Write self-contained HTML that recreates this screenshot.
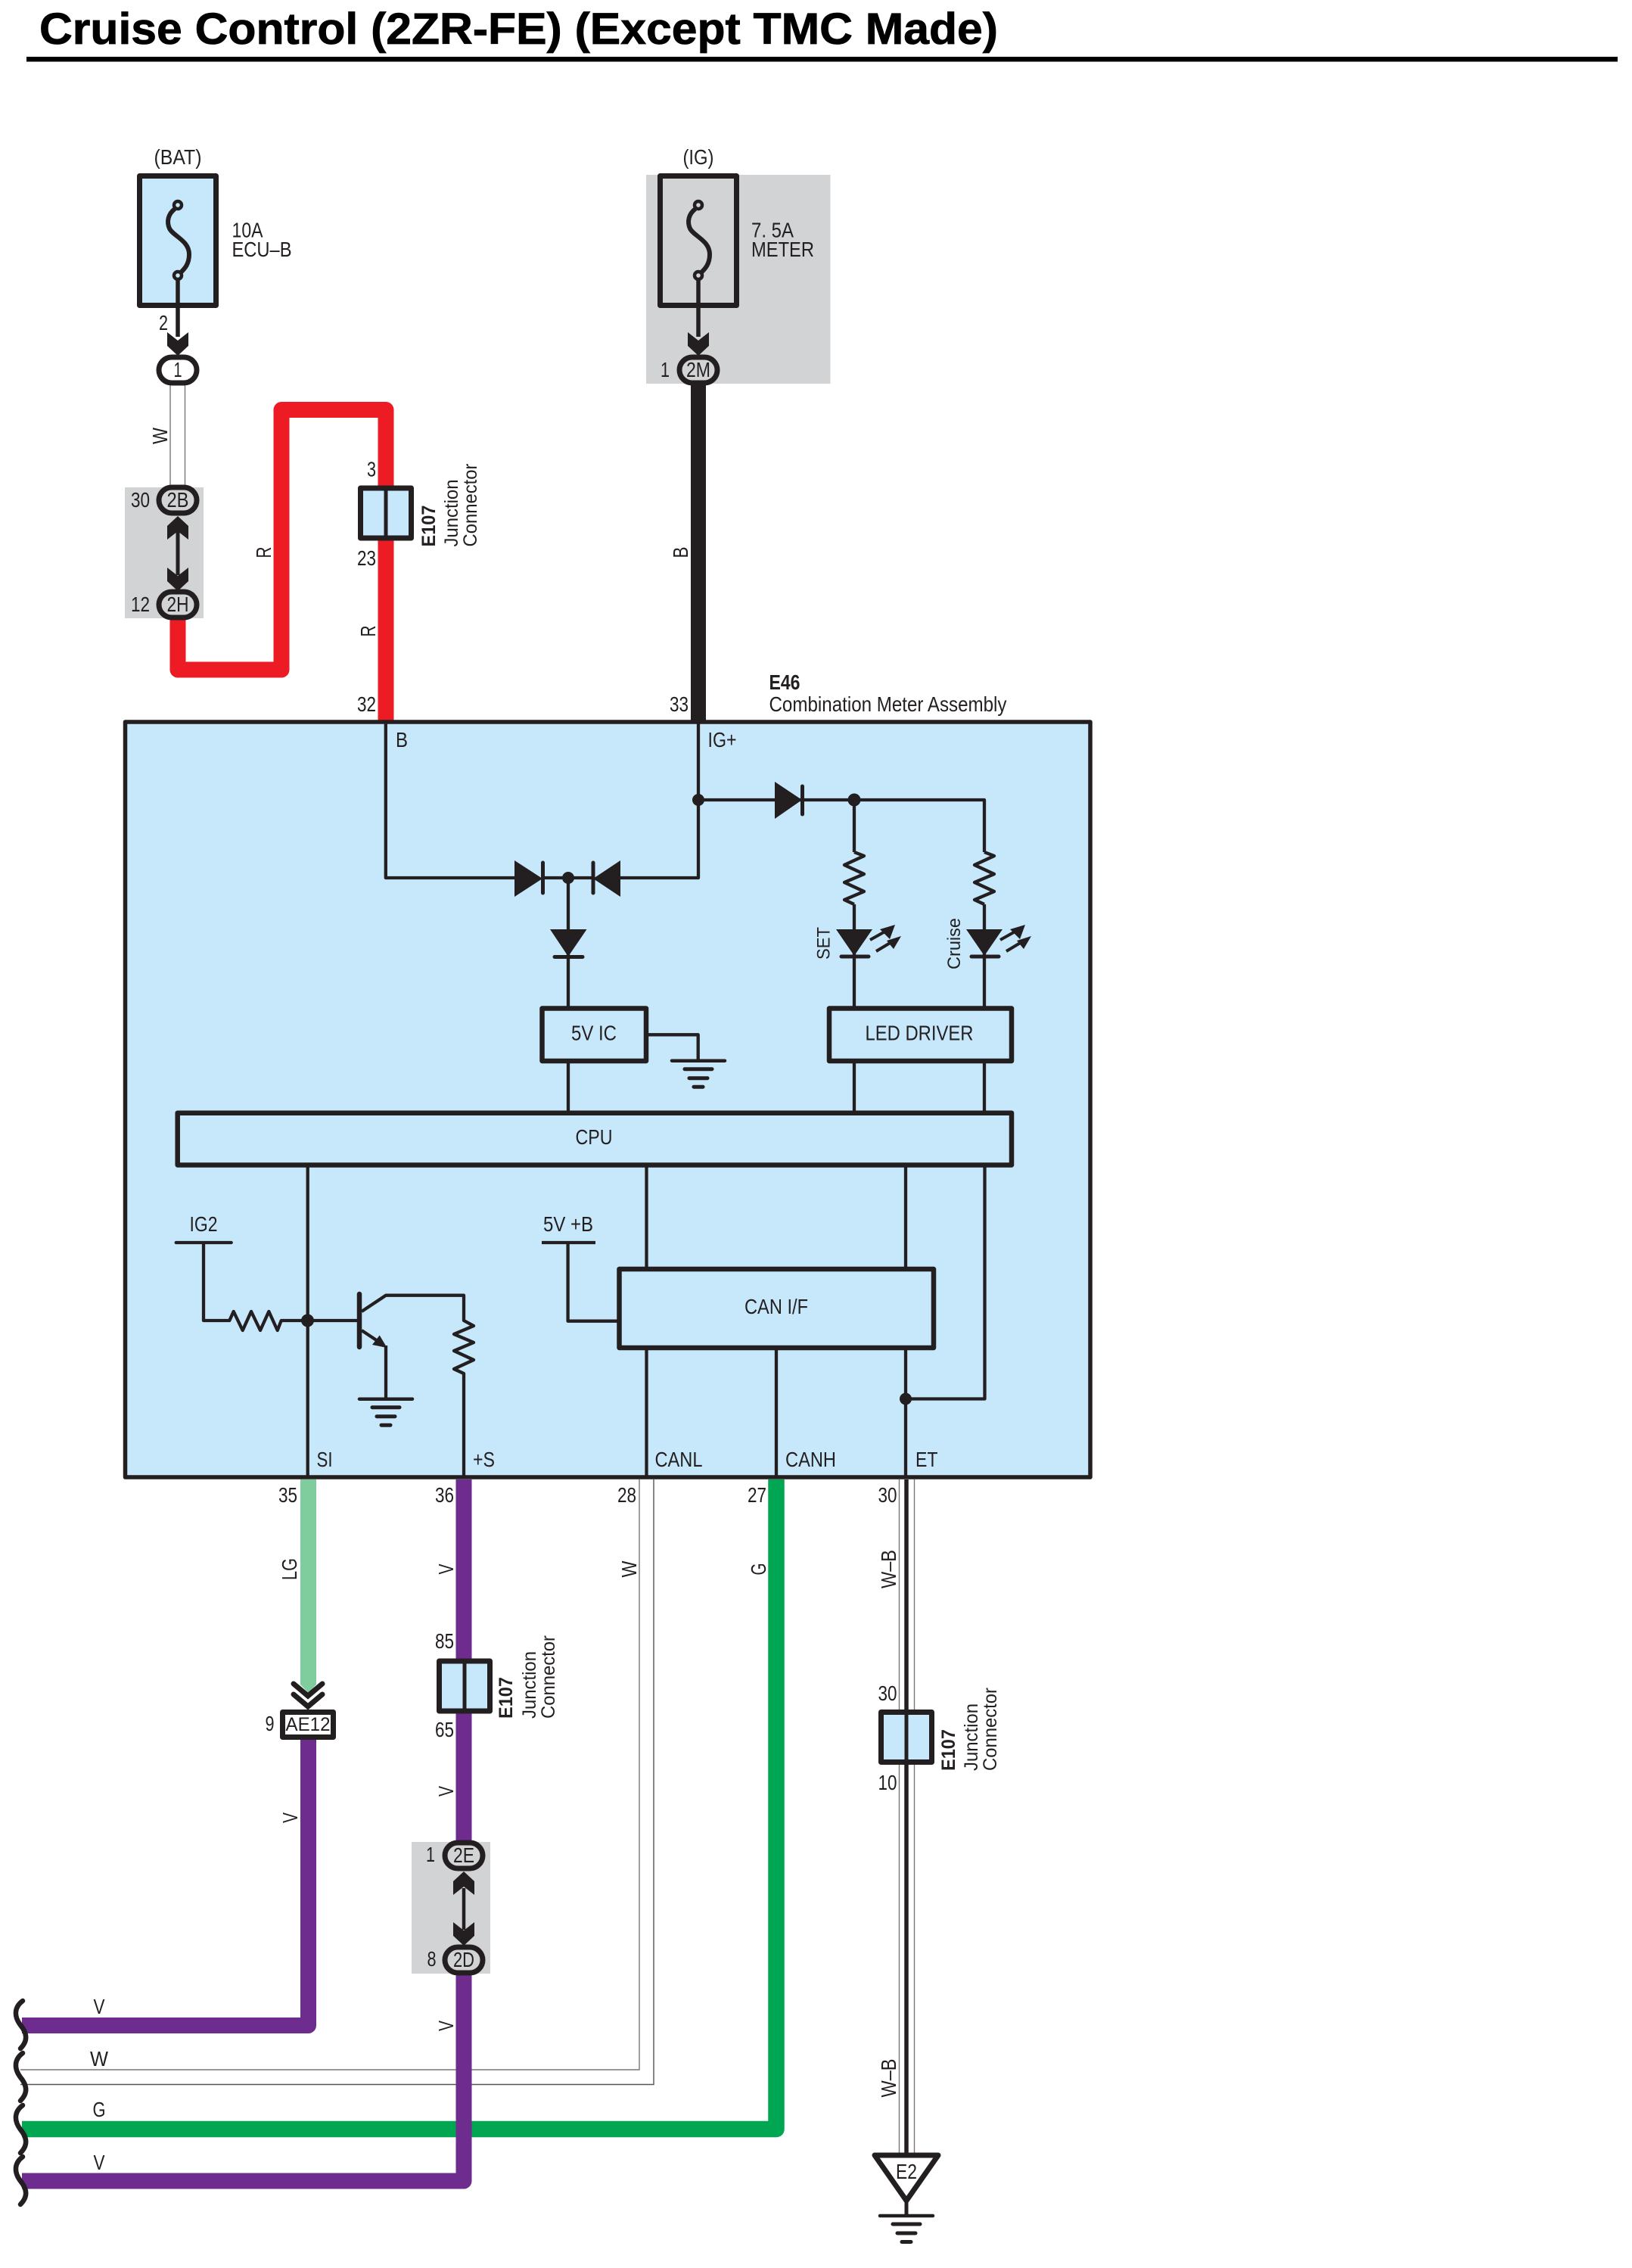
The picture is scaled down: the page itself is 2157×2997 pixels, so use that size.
<!DOCTYPE html>
<html><head><meta charset="utf-8"><title>Cruise Control (2ZR-FE) (Except TMC Made)</title>
<style>
html,body{margin:0;padding:0;background:#fff}
svg{display:block}
text{font-family:"Liberation Sans",sans-serif;font-size:27.5px;fill:#231f20}
.b{font-weight:bold}
.w{fill:none;stroke-linejoin:round}
.l{fill:none;stroke:#231f20;stroke-width:4.3;stroke-linejoin:round}
.k{fill:none;stroke:#231f20;stroke-width:7;stroke-linejoin:round}
.f{fill:#231f20}
.bl{fill:#c7e8fb;stroke:#231f20;stroke-width:6.5;stroke-linejoin:round}
.t{fill:none;stroke:#777;stroke-width:1.4}
</style></head><body>
<svg xmlns="http://www.w3.org/2000/svg" width="2157" height="2997" viewBox="0 0 2157 2997">
<defs>
<polygon id="ad" points="-14,0 0,11 14,0 14,18 0,31 -14,18" fill="#231f20"/>
<g id="gnd" stroke="#231f20" stroke-linecap="round" fill="none">
<path d="M-35,0H35" stroke-width="4.5"/><path d="M-18,11H18" stroke-width="5"/><path d="M-12,23H12" stroke-width="5"/><path d="M-6,34.500H6" stroke-width="5"/>
</g>
<g id="res"><path class="l" d="M0,0L13,5L-13,17L13,29L-13,40L13,52L-13,63L0,69"/></g>
<g id="led">
<polygon class="f" points="-24,0 24,0 0,35"/>
<path d="M-17,36H19" stroke="#231f20" stroke-width="5" stroke-linecap="round"/>
<path d="M21,14L46,0M29,29L54,14" stroke="#231f20" stroke-width="4"/>
<polygon class="f" points="54,-6 34,0 47,13"/>
<polygon class="f" points="62,9 43,15 52,26"/>
</g>
<g id="fuse" fill="none" stroke="#231f20">
<path d="M231,276C222,283 220,293 224,302C229,312 250,318 250,336C250,350 243,356 238,361" stroke-width="6"/>
<circle cx="235" cy="271" r="5" stroke-width="4.5"/><circle cx="235" cy="364" r="5" stroke-width="4.5"/>
</g>
<g id="jc">
<rect x="0" y="0" width="67" height="66" class="k" style="fill:#c7e8fb"/>
<path d="M33.5,0V66" stroke="#231f20" stroke-width="5"/>
</g>
<path id="wv" d="M30,0C19,8 18,20 27,32C37,44 36,54 27,63" fill="none" stroke="#231f20" stroke-width="6.500" stroke-linecap="round"/>
</defs>

<text x="52" y="58" class="b" style="font-size:58px;fill:#000;stroke:#000;stroke-width:.8" textLength="1267" lengthAdjust="spacingAndGlyphs">Cruise Control (2ZR-FE) (Except TMC Made)</text>
<rect x="35" y="75" width="2103" height="6.5" fill="#000"/>

<!-- gray areas -->
<rect x="854" y="231" width="243.500" height="276" fill="#d1d3d4"/>
<rect x="165" y="644" width="104" height="173" fill="#d1d3d4"/>
<rect x="544" y="2434" width="104" height="174" fill="#d1d3d4"/>

<!-- top wires -->
<path d="M225,509V645" class="t"/>
<path d="M244.500,509V645" class="t"/>
<path class="w" stroke="#ed1c24" stroke-width="21" d="M235,815V885H372V541.500H510V953"/>
<path stroke="#231f20" stroke-width="20" d="M923,505V953"/>

<!-- main block -->
<rect x="165.500" y="954" width="1275.500" height="998" class="bl" style="stroke-width:5.500"/>

<!-- fuses -->
<rect x="184.500" y="232.500" width="101" height="171" class="k" style="fill:#c7e8fb"/>
<use href="#fuse"/>
<path d="M235,369V445" stroke="#231f20" stroke-width="5.500"/>
<use href="#ad" transform="translate(235,439)"/>
<rect x="872.500" y="232.500" width="101" height="171" class="k"/>
<use href="#fuse" transform="translate(688,0)"/>
<path d="M923,369V445" stroke="#231f20" stroke-width="5.500"/>
<use href="#ad" transform="translate(923,439)"/>

<!-- top connectors -->
<rect x="210" y="472" width="50" height="34" rx="17" class="k" style="fill:#fff"/>
<rect x="898" y="472" width="50" height="34" rx="17" class="k" style="fill:#d1d3d4"/>
<path d="M235,700V760" stroke="#231f20" stroke-width="5"/>
<use href="#ad" transform="translate(235,713) scale(1,-1)"/>
<use href="#ad" transform="translate(235,750)"/>
<rect x="210" y="644" width="50" height="34" rx="17" class="k" style="fill:#d1d3d4"/>
<rect x="210" y="782" width="50" height="34" rx="17" class="k" style="fill:#d1d3d4"/>
<use href="#jc" transform="translate(476.500,645)"/>

<!-- inside block wiring -->
<path class="l" d="M509.800,954V1160H700M800,1160H923V954M923,1057H1301V1126"/>
<path class="l" d="M717,1160H784M751,1160V1332"/>
<polygon class="f" points="680,1137 680,1185 717,1161"/>
<path d="M717.500,1140V1180" stroke="#231f20" stroke-width="5" stroke-linecap="round"/>
<polygon class="f" points="820,1137 820,1185 784,1161"/>
<path d="M784,1140V1180" stroke="#231f20" stroke-width="5" stroke-linecap="round"/>
<circle cx="751" cy="1160" r="8" class="f"/>
<circle cx="923" cy="1057" r="8" class="f"/>
<polygon class="f" points="727,1228 775.500,1228 751,1264"/>
<path d="M733,1264.500H770" stroke="#231f20" stroke-width="5" stroke-linecap="round"/>
<polygon class="f" points="1024,1033 1024,1082 1060,1057"/>
<path d="M1060.500,1039V1076" stroke="#231f20" stroke-width="5" stroke-linecap="round"/>
<circle cx="1129" cy="1057" r="8.500" class="f"/>
<path class="l" d="M1129,1057V1126M1129,1195V1332M1301,1195V1332"/>
<use href="#res" transform="translate(1129,1126)"/>
<use href="#res" transform="translate(1301,1126)"/>
<use href="#led" transform="translate(1129,1228)"/>
<use href="#led" transform="translate(1301,1228)"/>

<path class="l" d="M751,1402V1470M1129,1402V1470M1301,1402V1470"/>
<path class="l" d="M854,1367.300H922.700V1401"/>
<use href="#gnd" transform="translate(923,1401.700)"/>

<path class="l" d="M406.700,1541V1952M854.500,1541V1677M854.500,1781V1952M1197,1541V1677M1197,1781V1952M1026,1781V1952M1301.500,1541V1848.500H1197"/>
<circle cx="1197" cy="1848.500" r="8" class="f"/>

<path class="l" d="M232.700,1642H305.700" stroke-linecap="round"/>
<path class="l" d="M269,1642V1745H303.300L308.700,1733L320.700,1758L332,1733L344,1758L355.300,1733L366.700,1758L371.700,1745H475"/>
<circle cx="406.500" cy="1745" r="8.500" class="f"/>
<path d="M475,1710V1780" stroke="#231f20" stroke-width="6.500" stroke-linecap="round"/>
<path class="l" d="M478,1733L510,1711.700H613V1745L626,1752L600,1763L626,1774L600,1785L626,1797L600,1809L613,1815V1952"/>
<path class="l" d="M478,1758L505,1776M510,1778V1848.700"/>
<polygon class="f" points="501.700,1764.500 492,1777 511.500,1781"/>
<use href="#gnd" transform="translate(510,1848.700)"/>

<path class="l" d="M716,1642H787"/>
<path class="l" d="M750.600,1642V1745.700H818"/>

<!-- boxes in block -->
<rect x="716.500" y="1332.500" width="137.500" height="69.500" class="bl"/>
<rect x="1096" y="1332.500" width="241" height="69.500" class="bl"/>
<rect x="234.700" y="1470.700" width="1102.300" height="68.800" class="bl"/>
<rect x="818.500" y="1677" width="415.500" height="104" class="bl"/>

<!-- bottom wires -->
<path class="t" d="M27,2735H845V1955"/>
<path d="M27,2754.500H864V1955" fill="none" stroke="#555" stroke-width="1.400"/>
<path class="w" stroke="#00a651" stroke-width="21.500" d="M29,2813.500H1026V1955"/>
<path class="w" stroke="#7fcc9c" stroke-width="21" d="M407.500,1955V2225"/>
<polygon points="397,2220 418,2220 418,2226 407.500,2237 397,2226" fill="#7fcc9c"/>
<path class="w" stroke="#6f2c8f" stroke-width="21" d="M407.500,2296V2676.500H29"/>
<path stroke="#6f2c8f" stroke-width="21" d="M613,1955V2436"/>
<path class="w" stroke="#6f2c8f" stroke-width="21" d="M29,2882H613V2604"/>

<path class="t" d="M1188.500,1955V2850"/>
<path class="t" d="M1208.500,1955V2850"/>
<path stroke="#231f20" stroke-width="5.500" d="M1198,1955V2850"/>

<!-- AE12 -->
<path d="M388,2225L407,2241L426,2225M388,2239L407,2255L426,2239" fill="none" stroke="#231f20" stroke-width="7" stroke-linecap="round"/>
<rect x="373.500" y="2262.500" width="67" height="33" class="k" style="fill:#fff"/>

<use href="#jc" transform="translate(580.500,2195)"/>
<use href="#jc" transform="translate(1164.500,2262.500)"/>

<path d="M613,2495V2550" stroke="#231f20" stroke-width="4.500"/>
<use href="#ad" transform="translate(613,2504) scale(1,-1)"/>
<use href="#ad" transform="translate(613,2540)"/>
<rect x="588" y="2435" width="50" height="34" rx="17" class="k" style="fill:#d1d3d4"/>
<rect x="588" y="2573" width="50" height="34" rx="17" class="k" style="fill:#d1d3d4"/>

<!-- ground E2 -->
<path d="M1156,2848H1240L1198,2908Z" class="k" style="fill:#fff"/>
<path d="M1198,2908V2928" stroke="#231f20" stroke-width="5"/>
<use href="#gnd" transform="translate(1198,2928)"/>

<!-- breaks -->
<use href="#wv" transform="translate(0,2644)"/>
<use href="#wv" transform="translate(0,2713)"/>
<use href="#wv" transform="translate(0,2782)"/>
<use href="#wv" transform="translate(0,2850)"/>

<!-- labels top -->
<text x="235" y="217" text-anchor="middle" textLength="63" lengthAdjust="spacingAndGlyphs">(BAT)</text>
<text x="923" y="217" text-anchor="middle" textLength="41" lengthAdjust="spacingAndGlyphs">(IG)</text>
<text x="306.500" y="313.500" textLength="41" lengthAdjust="spacingAndGlyphs">10A</text>
<text x="306.500" y="339" textLength="79" lengthAdjust="spacingAndGlyphs">ECU–B</text>
<text x="993" y="313.500" textLength="56" lengthAdjust="spacingAndGlyphs">7. 5A</text>
<text x="993" y="339" textLength="83" lengthAdjust="spacingAndGlyphs">METER</text>
<text x="222" y="436" text-anchor="end" textLength="12" lengthAdjust="spacingAndGlyphs">2</text>
<text x="235" y="498" text-anchor="middle" textLength="11" lengthAdjust="spacingAndGlyphs">1</text>
<text x="885" y="498" text-anchor="end" textLength="12" lengthAdjust="spacingAndGlyphs">1</text>
<text x="923" y="498" text-anchor="middle" textLength="32" lengthAdjust="spacingAndGlyphs">2M</text>
<text x="235" y="670" text-anchor="middle" textLength="29" lengthAdjust="spacingAndGlyphs">2B</text>
<text x="235" y="808" text-anchor="middle" textLength="29" lengthAdjust="spacingAndGlyphs">2H</text>
<text x="198" y="670" text-anchor="end" textLength="25" lengthAdjust="spacingAndGlyphs">30</text>
<text x="198" y="808" text-anchor="end" textLength="25" lengthAdjust="spacingAndGlyphs">12</text>
<text x="497" y="629.500" text-anchor="end" textLength="12" lengthAdjust="spacingAndGlyphs">3</text>
<text x="497" y="747" text-anchor="end" textLength="25" lengthAdjust="spacingAndGlyphs">23</text>
<text x="497" y="940" text-anchor="end" textLength="25" lengthAdjust="spacingAndGlyphs">32</text>
<text x="910" y="940" text-anchor="end" textLength="25" lengthAdjust="spacingAndGlyphs">33</text>
<text x="1016.500" y="911" class="b" textLength="41" lengthAdjust="spacingAndGlyphs">E46</text>
<text x="1016.500" y="940" textLength="314" lengthAdjust="spacingAndGlyphs">Combination Meter Assembly</text>

<text transform="translate(221,576) rotate(-90)" text-anchor="middle" textLength="22" lengthAdjust="spacingAndGlyphs">W</text>
<text transform="translate(358,730) rotate(-90)" text-anchor="middle" textLength="15" lengthAdjust="spacingAndGlyphs">R</text>
<text transform="translate(496,834) rotate(-90)" text-anchor="middle" textLength="15" lengthAdjust="spacingAndGlyphs">R</text>
<text transform="translate(909,730) rotate(-90)" text-anchor="middle" textLength="15" lengthAdjust="spacingAndGlyphs">B</text>

<text transform="translate(575,722.500) rotate(-90)" class="b" style="font-size:25px" textLength="55" lengthAdjust="spacingAndGlyphs">E107</text>
<text transform="translate(605,722.500) rotate(-90)" style="font-size:25px" textLength="89" lengthAdjust="spacingAndGlyphs">Junction</text>
<text transform="translate(630,722.500) rotate(-90)" style="font-size:25px" textLength="110" lengthAdjust="spacingAndGlyphs">Connector</text>
<text transform="translate(677,2271) rotate(-90)" class="b" style="font-size:25px" textLength="55" lengthAdjust="spacingAndGlyphs">E107</text>
<text transform="translate(708,2271) rotate(-90)" style="font-size:25px" textLength="89" lengthAdjust="spacingAndGlyphs">Junction</text>
<text transform="translate(733,2271) rotate(-90)" style="font-size:25px" textLength="110" lengthAdjust="spacingAndGlyphs">Connector</text>
<text transform="translate(1262,2340) rotate(-90)" class="b" style="font-size:25px" textLength="55" lengthAdjust="spacingAndGlyphs">E107</text>
<text transform="translate(1292,2340) rotate(-90)" style="font-size:25px" textLength="89" lengthAdjust="spacingAndGlyphs">Junction</text>
<text transform="translate(1317,2340) rotate(-90)" style="font-size:25px" textLength="110" lengthAdjust="spacingAndGlyphs">Connector</text>

<!-- labels in block -->
<text x="523" y="987" textLength="16" lengthAdjust="spacingAndGlyphs">B</text>
<text x="935.500" y="987" textLength="38" lengthAdjust="spacingAndGlyphs">IG+</text>
<text x="785" y="1374.700" text-anchor="middle" textLength="60" lengthAdjust="spacingAndGlyphs">5V IC</text>
<text x="1215" y="1374.700" text-anchor="middle" textLength="143" lengthAdjust="spacingAndGlyphs">LED DRIVER</text>
<text x="785" y="1512" text-anchor="middle" textLength="49" lengthAdjust="spacingAndGlyphs">CPU</text>
<text x="1026" y="1736" text-anchor="middle" textLength="84" lengthAdjust="spacingAndGlyphs">CAN I/F</text>
<text x="269" y="1627" text-anchor="middle" textLength="37" lengthAdjust="spacingAndGlyphs">IG2</text>
<text x="751" y="1627" text-anchor="middle" textLength="66" lengthAdjust="spacingAndGlyphs">5V +B</text>
<text x="418.500" y="1938" textLength="21" lengthAdjust="spacingAndGlyphs">SI</text>
<text x="625" y="1938" textLength="29" lengthAdjust="spacingAndGlyphs">+S</text>
<text x="865.500" y="1938" textLength="63" lengthAdjust="spacingAndGlyphs">CANL</text>
<text x="1038" y="1938" textLength="67" lengthAdjust="spacingAndGlyphs">CANH</text>
<text x="1210" y="1938" textLength="29.500" lengthAdjust="spacingAndGlyphs">ET</text>
<text transform="translate(1096.500,1268) rotate(-90)" style="font-size:24px" textLength="43" lengthAdjust="spacingAndGlyphs">SET</text>
<text transform="translate(1269,1281) rotate(-90)" style="font-size:24px" textLength="68" lengthAdjust="spacingAndGlyphs">Cruise</text>

<!-- labels bottom -->
<text x="393" y="1985" text-anchor="end" textLength="25" lengthAdjust="spacingAndGlyphs">35</text>
<text x="600" y="1985" text-anchor="end" textLength="25" lengthAdjust="spacingAndGlyphs">36</text>
<text x="841" y="1985" text-anchor="end" textLength="25" lengthAdjust="spacingAndGlyphs">28</text>
<text x="1013" y="1985" text-anchor="end" textLength="25" lengthAdjust="spacingAndGlyphs">27</text>
<text x="1185.500" y="1985" text-anchor="end" textLength="25" lengthAdjust="spacingAndGlyphs">30</text>
<text transform="translate(392,2073.500) rotate(-90)" text-anchor="middle" textLength="29" lengthAdjust="spacingAndGlyphs">LG</text>
<text transform="translate(599,2073.500) rotate(-90)" text-anchor="middle" textLength="14" lengthAdjust="spacingAndGlyphs">V</text>
<text transform="translate(841,2073.500) rotate(-90)" text-anchor="middle" textLength="22" lengthAdjust="spacingAndGlyphs">W</text>
<text transform="translate(1012,2073.500) rotate(-90)" text-anchor="middle" textLength="16" lengthAdjust="spacingAndGlyphs">G</text>
<text transform="translate(1184,2073.500) rotate(-90)" text-anchor="middle" textLength="51" lengthAdjust="spacingAndGlyphs">W–B</text>
<text transform="translate(1184,2746) rotate(-90)" text-anchor="middle" textLength="51" lengthAdjust="spacingAndGlyphs">W–B</text>
<text transform="translate(599,2367) rotate(-90)" text-anchor="middle" textLength="14" lengthAdjust="spacingAndGlyphs">V</text>
<text transform="translate(393,2402) rotate(-90)" text-anchor="middle" textLength="14" lengthAdjust="spacingAndGlyphs">V</text>
<text transform="translate(599,2677) rotate(-90)" text-anchor="middle" textLength="14" lengthAdjust="spacingAndGlyphs">V</text>
<text x="600" y="2178" text-anchor="end" textLength="25" lengthAdjust="spacingAndGlyphs">85</text>
<text x="600" y="2295" text-anchor="end" textLength="25" lengthAdjust="spacingAndGlyphs">65</text>
<text x="1185.500" y="2247" text-anchor="end" textLength="25" lengthAdjust="spacingAndGlyphs">30</text>
<text x="1185.500" y="2365" text-anchor="end" textLength="25" lengthAdjust="spacingAndGlyphs">10</text>
<text x="407" y="2287" text-anchor="middle" style="font-size:25px" textLength="59" lengthAdjust="spacingAndGlyphs">AE12</text>
<text x="362.500" y="2287" text-anchor="end" textLength="12" lengthAdjust="spacingAndGlyphs">9</text>
<text x="613" y="2461" text-anchor="middle" textLength="28" lengthAdjust="spacingAndGlyphs">2E</text>
<text x="613" y="2599" text-anchor="middle" textLength="28" lengthAdjust="spacingAndGlyphs">2D</text>
<text x="575" y="2460" text-anchor="end" textLength="12" lengthAdjust="spacingAndGlyphs">1</text>
<text x="576.500" y="2598" text-anchor="end" textLength="12" lengthAdjust="spacingAndGlyphs">8</text>
<text x="131" y="2661" text-anchor="middle" textLength="15" lengthAdjust="spacingAndGlyphs">V</text>
<text x="131" y="2730" text-anchor="middle" textLength="24" lengthAdjust="spacingAndGlyphs">W</text>
<text x="131" y="2797" text-anchor="middle" textLength="17" lengthAdjust="spacingAndGlyphs">G</text>
<text x="131" y="2867" text-anchor="middle" textLength="15" lengthAdjust="spacingAndGlyphs">V</text>
<text x="1198" y="2879" text-anchor="middle" textLength="28" lengthAdjust="spacingAndGlyphs">E2</text>
</svg>
</body></html>
